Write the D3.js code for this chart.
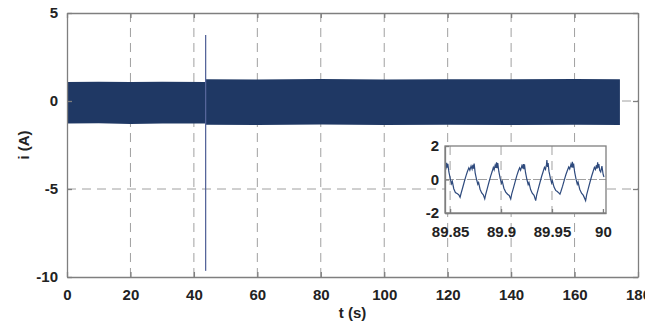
<!DOCTYPE html>
<html>
<head>
<meta charset="utf-8">
<script src="https://cdn.jsdelivr.net/npm/d3@7"></script>
<style>
  body { margin: 0; background: #fff; }
  text { font-family: "Liberation Sans", Arial, sans-serif; font-weight: bold; fill: #222; }
</style>
</head>
<body>
<div id="chart"></div>
<script>
// main trace envelope (the 0..174 s record is too dense to show single cycles)
const envTime  = [0, 10, 20, 30, 43.7, 43.8, 60, 80, 100, 120, 140, 160, 174.3];
const envUpper = [1.08, 1.10, 1.08, 1.10, 1.08, 1.24, 1.22, 1.25, 1.22, 1.24, 1.23, 1.25, 1.24];
const envLower = [-1.28, -1.27, -1.30, -1.28, -1.28, -1.35, -1.36, -1.34, -1.36, -1.35, -1.36, -1.35, -1.36];

// transient spike at switching instant
const spikeTime = 43.7;
const spikeRange = [3.75, -9.65];

const xTicks = [0, 20, 40, 60, 80, 100, 120, 140, 160, 180];
const yTicks = [-10, -5, 0, 5];

// zoomed detail, 89.845 .. 90.003 s
const insetTime = [
  89.8458, 89.8466, 89.8472, 89.8478, 89.8488, 89.8502, 89.8514, 89.8522, 89.8536, 89.8552, 89.8572,
  89.8586, 89.8598, 89.8608, 89.8624, 89.8640, 89.8656, 89.8670, 89.8684, 89.8694, 89.8706,
  89.8716, 89.8724, 89.8730, 89.8736, 89.8746, 89.8760, 89.8772, 89.8780, 89.8794, 89.8810,
  89.8826, 89.8840, 89.8850, 89.8866, 89.8882, 89.8898, 89.8912, 89.8924, 89.8932, 89.8942,
  89.8950, 89.8956, 89.8962, 89.8968, 89.8978, 89.8992, 89.9004, 89.9012, 89.9028, 89.9046,
  89.9064, 89.9080, 89.9095, 89.9105, 89.9122, 89.9138, 89.9154, 89.9168, 89.9182, 89.9192, 89.9204,
  89.9212, 89.9218, 89.9224, 89.9230, 89.9240, 89.9254, 89.9266, 89.9274, 89.9290, 89.9306,
  89.9324, 89.9340, 89.9350, 89.9366, 89.9382, 89.9398, 89.9412, 89.9426, 89.9436, 89.9446,
  89.9450, 89.9456, 89.9462, 89.9470, 89.9484, 89.9496, 89.9504, 89.9520, 89.9536, 89.9552,
  89.9566, 89.9578, 89.9588, 89.9604, 89.9620, 89.9636, 89.9650, 89.9664, 89.9674, 89.9686,
  89.9694, 89.9700, 89.9706, 89.9712, 89.9722, 89.9736, 89.9748, 89.9756, 89.9772, 89.9790,
  89.9808, 89.9830, 89.9840, 89.9856, 89.9872, 89.9888, 89.9902, 89.9916, 89.9926,
  89.9936, 89.9942, 89.9948, 89.9954, 89.9960, 89.9968, 89.9978, 89.9990, 90.0002, 90.0010];
const insetCurrent = [
  0.60, 1.00, 0.70, 0.93, 0.45, 0.05, -0.25, -0.12, -0.55, -0.78, -0.85,
  -0.92, -1.06, -0.82, -0.48, -0.12, 0.22, 0.48, 0.70, 0.55, 0.80,
  0.62, 0.88, 0.65, 0.95, 0.40, 0.00, -0.28, -0.18, -0.58, -0.80,
  -0.92, -1.16, -0.88, -0.52, -0.15, 0.20, 0.46, 0.72, 0.58, 0.85,
  0.70, 1.03, 0.68, 0.98, 0.48, 0.05, -0.22, -0.10, -0.52, -0.75,
  -0.88, -0.95, -1.16, -0.86, -0.50, -0.14, 0.22, 0.48, 0.70, 0.56, 0.82,
  0.66, 0.92, 0.62, 0.90, 0.42, 0.00, -0.30, -0.18, -0.60, -0.82,
  -0.95, -1.26, -0.92, -0.55, -0.18, 0.18, 0.45, 0.72, 0.60, 0.90,
  1.16, 0.75, 0.98, 0.50, 0.08, -0.20, -0.08, -0.45, -0.65, -0.72,
  -0.80, -0.87, -0.70, -0.40, -0.05, 0.28, 0.52, 0.75, 0.62, 0.90,
  0.72, 1.06, 0.70, 0.95, 0.45, 0.02, -0.28, -0.15, -0.58, -0.82,
  -0.95, -1.26, -0.92, -0.55, -0.18, 0.18, 0.45, 0.72, 0.60,
  0.85, 0.65, 1.02, 0.70, 0.92, 0.55, 0.45, 0.80, 0.30, 0.15];
const insetXTicks = [89.85, 89.9, 89.95, 90];
const insetYTicks = [-2, 0, 2];

const navy = '#1f3864';
const axisCol = '#7f7f7f';
const gridCol = '#a0a0a0';

const margin = { top: 13, right: 23, bottom: 54, left: 67 };
const fullW = 661, fullH = 331;
const width = fullW - margin.left - margin.right;
const height = fullH - margin.top - margin.bottom;

const svg = d3.select('#chart')
  .append('svg')
  .attr('width', 645)
  .attr('height', fullH)
  .style('display', 'block');

const g = svg.append('g')
  .attr('transform', 'translate(' + margin.left + ',' + margin.top + ')');

const x = d3.scaleLinear().domain([0, 180]).range([0, width]);
const y = d3.scaleLinear().domain([-10, 5]).range([height, 0]);
const plain = d => String(d);

// grid
g.selectAll('.vgrid')
  .data(xTicks.slice(1, -1))
  .enter().append('line')
  .attr('x1', d => x(d)).attr('x2', d => x(d))
  .attr('y1', 0).attr('y2', height)
  .attr('stroke', gridCol).attr('stroke-width', 1)
  .attr('stroke-dasharray', '9,6');
g.selectAll('.hgrid')
  .data(yTicks.slice(1, -1))
  .enter().append('line')
  .attr('x1', 0).attr('x2', width)
  .attr('y1', d => y(d)).attr('y2', d => y(d))
  .attr('stroke', gridCol).attr('stroke-width', 1)
  .attr('stroke-dasharray', '9,6');

// signal envelope
const env = envTime.map((t, i) => ({ t: t, hi: envUpper[i], lo: envLower[i] }));
g.append('path')
  .datum(env)
  .attr('fill', navy)
  .attr('d', d3.area().x(d => x(d.t)).y0(d => y(d.lo)).y1(d => y(d.hi)));

// spike
g.append('line')
  .attr('x1', x(spikeTime)).attr('x2', x(spikeTime))
  .attr('y1', y(spikeRange[0])).attr('y2', y(spikeRange[1]))
  .attr('stroke', '#56659a').attr('stroke-width', 1.3);

// axes
g.append('g')
  .attr('transform', 'translate(0,' + height + ')')
  .call(d3.axisBottom(x).tickValues(xTicks).tickFormat(plain).tickSizeInner(-5).tickSizeOuter(0).tickPadding(12));
g.append('g')
  .call(d3.axisLeft(y).tickValues(yTicks).tickFormat(plain).tickSizeInner(-5).tickSizeOuter(0).tickPadding(9));
g.append('g')
  .call(d3.axisTop(x).tickValues(xTicks).tickSizeInner(-5).tickSizeOuter(0).tickFormat(''));
g.append('g')
  .attr('transform', 'translate(' + width + ',0)')
  .call(d3.axisRight(y).tickValues(yTicks).tickSizeInner(-5).tickSizeOuter(0).tickFormat(''));
g.selectAll('.domain, .tick line').attr('stroke', axisCol).attr('stroke-width', 1.3);
g.selectAll('.tick text').style('font-size', '15px').style('font-weight', 'bold').attr('fill', '#222');

// labels
svg.append('text')
  .attr('x', margin.left + width / 2).attr('y', 318)
  .attr('text-anchor', 'middle')
  .style('font-size', '15px')
  .text('t (s)');
svg.append('text')
  .attr('transform', 'translate(29,' + (margin.top + height / 2) + ') rotate(-90)')
  .attr('text-anchor', 'middle')
  .style('font-size', '15px')
  .text('i (A)');

// inset
const ib = { left: 445, top: 146, w: 161, h: 67 };
const ig = svg.append('g').attr('transform', 'translate(' + ib.left + ',' + ib.top + ')');
const ix = d3.scaleLinear().domain([89.845, 90.003]).range([0, ib.w]);
const iy = d3.scaleLinear().domain([-2, 2]).range([ib.h, 0]);

ig.append('rect').attr('width', ib.w).attr('height', ib.h).attr('fill', '#fff');
ig.selectAll('.ivgrid')
  .data(insetXTicks.slice(0, -1))
  .enter().append('line')
  .attr('x1', d => ix(d)).attr('x2', d => ix(d))
  .attr('y1', 0).attr('y2', ib.h)
  .attr('stroke', gridCol).attr('stroke-dasharray', '9,6');
ig.append('line')
  .attr('x1', 0).attr('x2', ib.w)
  .attr('y1', iy(0)).attr('y2', iy(0))
  .attr('stroke', gridCol).attr('stroke-dasharray', '9,2');

const insetPts = insetTime.map((t, i) => [t, insetCurrent[i]]);
ig.append('path')
  .datum(insetPts.filter(p => p[0] <= 90.003))
  .attr('fill', 'none')
  .attr('stroke', '#2e4a7d')
  .attr('stroke-width', 1.2)
  .attr('d', d3.line().x(d => ix(d[0])).y(d => iy(d[1])));

ig.append('g')
  .attr('transform', 'translate(0,' + ib.h + ')')
  .call(d3.axisBottom(ix).tickValues(insetXTicks).tickFormat(plain).tickSizeInner(-4).tickSizeOuter(0).tickPadding(13));
ig.append('g')
  .call(d3.axisLeft(iy).tickValues(insetYTicks).tickFormat(plain).tickSizeInner(-4).tickSizeOuter(0).tickPadding(6));
ig.append('rect')
  .attr('width', ib.w).attr('height', ib.h)
  .attr('fill', 'none').attr('stroke', axisCol).attr('stroke-width', 1.3);
ig.selectAll('.domain, .tick line').attr('stroke', axisCol).attr('stroke-width', 1.3);
ig.selectAll('.tick text').style('font-size', '15px').style('font-weight', 'bold').attr('fill', '#222');
</script>
</body>
</html>
